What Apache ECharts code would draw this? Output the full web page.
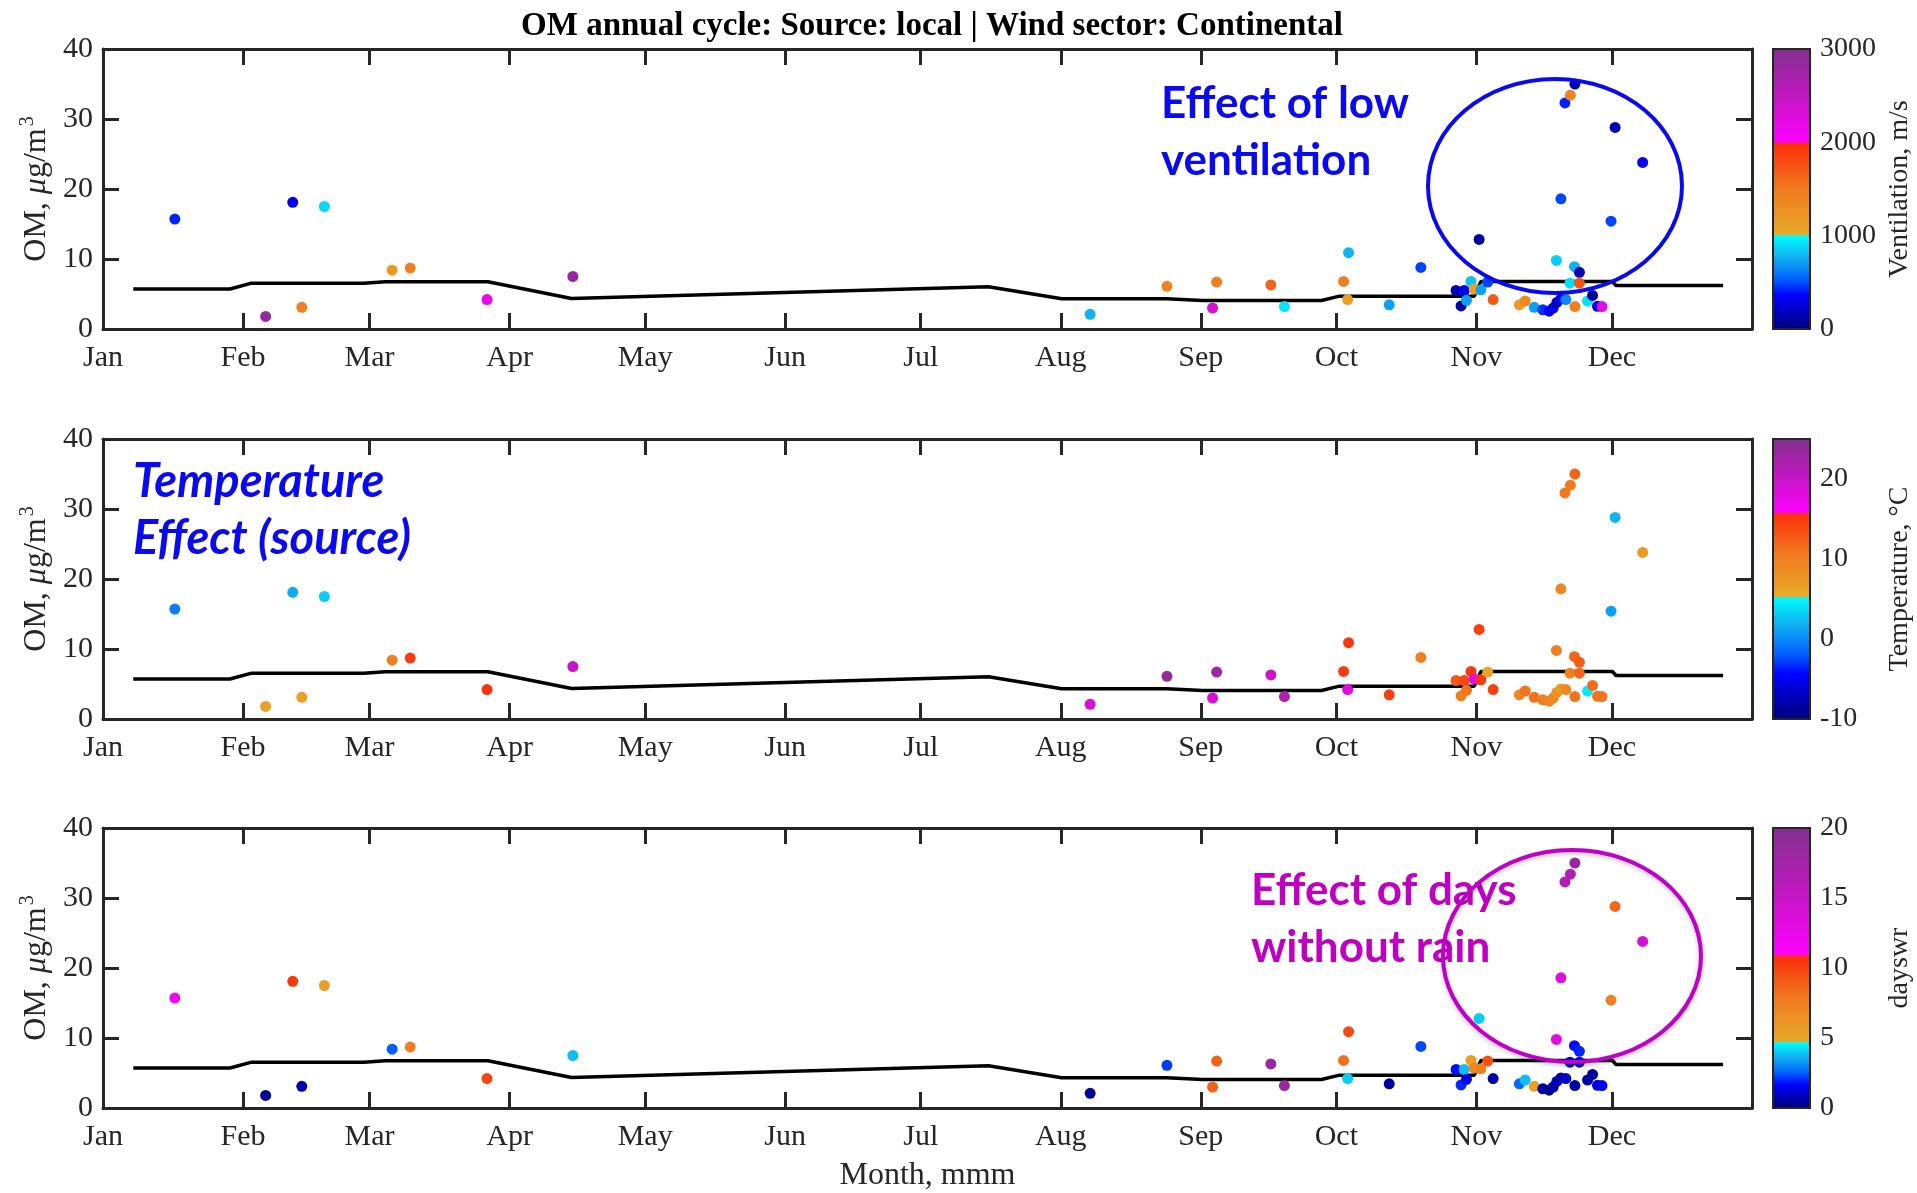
<!DOCTYPE html>
<html lang="en">
<head>
<meta charset="utf-8">
<title>OM annual cycle</title>
<script src="https://cdn.jsdelivr.net/npm/echarts@6/dist/echarts.min.js"></script>
<style>
    html, body { margin: 0; padding: 0; background: #ffffff; }
    #chart { width: 1917px; height: 1193px; }
</style>
</head>
<body>
<div id="chart"></div>
<script>
    // samples: day of year (0 = 1 Jan) and OM concentration
    var sampleDay = [15.9, 36, 42, 44, 49, 64, 68, 85, 104, 218.5, 235.5, 245.6, 246.5, 258.5, 261.5,
        275.7, 274.6, 275.5, 284.7, 291.7, 299.5, 301.3, 300.6, 301.8, 302.8, 303.5, 305, 306.5, 304.6,
        307.7, 313.5, 314.8, 316.8, 318.7, 320.1, 321, 321.8, 322.7, 323.8, 321.7, 322.7, 323.6, 324.8,
        325.8, 325.7, 326.8, 324.7, 326.8, 325.8, 328.6, 329.7, 330.8, 331.8, 333.8, 334.7, 340.8];
    var sampleOM = [15.7, 1.8, 18.1, 3.1, 17.5, 8.4, 8.7, 4.2, 7.5, 2.1, 6.1, 3.0, 6.7, 6.3, 3.2,
        10.9, 6.8, 4.2, 3.45, 8.8, 5.5, 5.5, 3.3, 4.1, 6.8, 5.7, 5.6, 6.7, 12.8,
        4.2, 3.45, 4.0, 3.1, 2.75, 2.55, 3.0, 3.8, 4.3, 4.2, 9.8, 18.6, 32.3, 33.4,
        35.0, 8.9, 8.1, 6.55, 6.55, 3.2, 4.0, 4.8, 3.25, 3.2, 15.4, 28.8, 23.8];
    // colour variables
    var ventilation = [420, 2850, 320, 1450, 880, 1200, 1450, 2150, 2850, 780, 1400, 2350, 1450, 1650, 920,
        780, 1450, 1100, 720, 480, 180, 300, 100, 720, 820, 1100, 720, 480, 100,
        1700, 1150, 1350, 720, 450, 330, 300, 200, 330, 650, 850, 480, 420, 1400,
        120, 780, 150, 900, 1750, 1450, 920, 100, 300, 2250, 480, 150, 320];
    var temperature = [-0.5, 6.5, 1.5, 6.5, 3, 10, 14.8, 15.3, 20, 18.5, 24, 18.5, 23, 19.5, 21.5,
        15.2, 14.8, 18, 14.5, 10, 13, 14, 10, 11, 15, 17.5, 15, 6, 14.5,
        14.5, 9, 11, 11, 10, 9, 9, 8, 7, 9, 10, 9, 10.5, 10.5,
        12, 12, 12.5, 10, 12, 11, 4.5, 11.5, 11, 11, 1, 2, 7];
    var daysWithoutRain = [11.8, 0.3, 10.4, 0.7, 5.5, 2.5, 7.5, 9.8, 3.8, 0.3, 2.2, 8.8, 8.8, 18.5, 18.5,
        9.8, 8.2, 4, 0.4, 2.3, 1.8, 3.8, 2, 1.5, 5.5, 7, 7.5, 9.5, 4,
        0.5, 2.6, 3.8, 5.5, 0.5, 0.3, 0.5, 0.8, 0.5, 1, 13, 13.5, 16.5, 16.5,
        18.5, 1.8, 2, 1, 1, 0.5, 0.5, 0.5, 1.5, 1.5, 7.5, 8.5, 14];

    // baseline curve
    var baseDay = [6.7, 28.1, 32.7, 57.7, 62.5, 85.2, 103.7, 196, 212.2, 235.4, 243.4, 269.7, 273.7,
        303.5, 305, 334.1, 334.9, 358.6];
    var baseOM = [5.72, 5.72, 6.52, 6.52, 6.75, 6.75, 4.35, 6.05, 4.31, 4.31, 4.07, 4.07, 4.69,
        4.69, 6.79, 6.79, 6.21, 6.21];

    var monthStarts = [0, 31, 59, 90, 120, 151, 181, 212, 243, 273, 304, 334];
    var monthNames = ['Jan', 'Feb', 'Mar', 'Apr', 'May', 'Jun', 'Jul', 'Aug', 'Sep', 'Oct', 'Nov', 'Dec'];

    var ventTicks = [0, 1000, 2000, 3000];
    var tempTicks = [-10, 0, 10, 20];
    var rainTicks = [0, 5, 10, 15, 20];

    // colour scales: range and the two breaks of the three-part colormap
    var scales = [
        {min: 0, b1: 1000, b2: 2000, max: 3000, ticks: ventTicks, name: 'Ventilation, m/s'},
        {min: -10, b1: 5.3, b2: 15.8, max: 25, ticks: tempTicks, name: 'Temperature, \u00B0C'},
        {min: 0, b1: 4.7, b2: 10.9, max: 20, ticks: rainTicks, name: 'dayswr'}
    ];

    var cmapLow = [[0, [0, 0, 128]], [0.15, [0, 0, 176]], [0.36, [0, 0, 255]], [0.53, [0, 96, 255]],
        [0.77, [16, 176, 240]], [1, [0, 255, 255]]];
    var cmapMid = [[0, [232, 170, 40]], [0.5, [240, 122, 32]], [1, [250, 45, 10]]];
    var cmapHigh = [[0, [255, 0, 255]], [0.5, [192, 24, 192]], [1, [130, 48, 142]]];

    function stopColor(stops, t) {
        t = Math.max(0, Math.min(1, t));
        for (var i = 1; i < stops.length; i++) {
            if (t <= stops[i][0]) {
                var a = stops[i - 1], b = stops[i];
                var f = (t - a[0]) / (b[0] - a[0]);
                var c = [0, 1, 2].map(function (k) { return Math.round(a[1][k] + (b[1][k] - a[1][k]) * f); });
                return 'rgb(' + c.join(',') + ')';
            }
        }
        return 'rgb(' + stops[stops.length - 1][1].join(',') + ')';
    }

    function colorAt(v, s) {
        if (v < s.b1) return stopColor(cmapLow, (v - s.min) / (s.b1 - s.min));
        if (v < s.b2) return stopColor(cmapMid, (v - s.b1) / (s.b2 - s.b1));
        return stopColor(cmapHigh, (v - s.b2) / (s.max - s.b2));
    }

    function rampColors(s) {
        var out = [];
        for (var i = 0; i <= 300; i++) {
            out.push(colorAt(s.min + (s.max - s.min) * i / 300, s));
        }
        return out;
    }

    var points = sampleDay.map(function (d, i) {
        return [d, sampleOM[i], ventilation[i], temperature[i], daysWithoutRain[i]];
    });
    var baseline = baseDay.map(function (d, i) { return [d, baseOM[i]]; });

    var serif = "'Liberation Serif', 'Times New Roman', serif";
    var ink = '#262626';
    var plotLeft = 103, plotWidth = 1649, plotHeight = 280;
    var plotTops = [49, 439, 828];
    var barLeft = 1773, barWidth = 37;

    var grid = [], xAxis = [], yAxis = [], series = [], visualMap = [];

    plotTops.forEach(function (top, p) {
        grid.push({left: plotLeft, top: top, width: plotWidth, height: plotHeight});
        var tick = {show: true, inside: true, length: 16, customValues: monthStarts,
            lineStyle: {color: ink, width: 3}};
        var frame = {show: true, onZero: false, lineStyle: {color: ink, width: 3}};
        xAxis.push({
            gridIndex: p, type: 'value', min: 0, max: 365, position: 'bottom',
            axisLine: frame,
            axisTick: tick,
            axisLabel: {
                customValues: monthStarts, color: ink, fontFamily: serif, fontSize: 30, margin: 14,
                formatter: function (v) { return monthNames[monthStarts.indexOf(v)] || ''; }
            },
            splitLine: {show: false},
            name: p === 2 ? 'Month, mmm' : '', nameLocation: 'middle', nameGap: 52,
            nameTextStyle: {color: ink, fontFamily: serif, fontSize: 32}
        });
        xAxis.push({
            gridIndex: p, type: 'value', min: 0, max: 365, position: 'top',
            axisLine: frame,
            axisTick: tick, axisLabel: {show: false}, splitLine: {show: false}
        });
        var ytick = {show: true, inside: true, length: 16, lineStyle: {color: ink, width: 3}};
        yAxis.push({
            gridIndex: p, type: 'value', min: 0, max: 40, interval: 10, position: 'left',
            axisLine: frame,
            axisTick: ytick,
            axisLabel: {color: ink, fontFamily: serif, fontSize: 30, margin: 10},
            splitLine: {show: false},
            name: '{a|OM, }{i|\u03BC}{a|g/m}{s|3}', nameLocation: 'middle', nameRotate: 90, nameGap: 46,
            nameTextStyle: {
                color: ink, fontFamily: serif, fontSize: 32,
                rich: {
                    a: {fontFamily: serif, fontSize: 32, color: ink},
                    i: {fontFamily: serif, fontSize: 32, fontStyle: 'italic', color: ink},
                    s: {fontFamily: serif, fontSize: 20, color: ink, padding: [0, 0, 16, 2]}
                }
            }
        });
        yAxis.push({
            gridIndex: p, type: 'value', min: 0, max: 40, interval: 10, position: 'right',
            axisLine: frame,
            axisTick: ytick, axisLabel: {show: false}, splitLine: {show: false}
        });
        series.push({
            type: 'line', xAxisIndex: 2 * p, yAxisIndex: 2 * p, data: baseline,
            showSymbol: false, symbol: 'none', silent: true, z: 2,
            lineStyle: {color: '#000000', width: 3.5}
        });
    });

    // scatter series, one per panel, coloured by its own variable
    plotTops.forEach(function (top, p) {
        series.push({
            type: 'scatter', xAxisIndex: 2 * p, yAxisIndex: 2 * p, data: points,
            symbolSize: 11, z: 3, encode: {x: 0, y: 1},
            itemStyle: {opacity: 1}
        });
    });

    // colour bars: visualMap bar plus an axis grid for labels and the frame
    plotTops.forEach(function (top, p) {
        var s = scales[p];
        visualMap.push({
            type: 'continuous', seriesIndex: 3 + p, dimension: 2 + p,
            min: s.min, max: s.max, calculable: false, orient: 'vertical',
            left: barLeft, top: top, itemWidth: barWidth, itemHeight: plotHeight, padding: 0,
            inRange: {color: rampColors(s)}, text: null, hoverLink: false
        });
        grid.push({left: barLeft, top: top, width: barWidth, height: plotHeight,
            show: true, borderColor: ink, borderWidth: 2, backgroundColor: 'transparent', z: 10});
        xAxis.push({gridIndex: 3 + p, type: 'value', show: false});
        yAxis.push({
            gridIndex: 3 + p, type: 'value', min: s.min, max: s.max, position: 'right',
            axisLine: {show: false}, axisTick: {show: false}, splitLine: {show: false},
            axisLabel: {customValues: s.ticks, color: ink, fontFamily: serif, fontSize: 28, margin: 10,
                formatter: function (v) { return String(v); }},
            name: s.name, nameLocation: 'middle', nameRotate: 90, nameGap: 76,
            nameTextStyle: {color: ink, fontFamily: serif, fontSize: 28}
        });
    });

    var noteFont = "Lato, 'Open Sans', sans-serif";

    var option = {
        backgroundColor: '#ffffff',
        animation: false,
        title: {
            text: 'OM annual cycle: Source: local | Wind sector: Continental',
            left: 927, top: 5, textAlign: 'center',
            textStyle: {fontFamily: serif, fontWeight: 'bold', fontSize: 33, color: '#000000'}
        },
        grid: grid,
        xAxis: xAxis,
        yAxis: yAxis,
        visualMap: visualMap,
        series: series,
        graphic: [
            {type: 'text', left: 1161, top: 75, z: 20, silent: true,
                style: {text: 'Effect of low\nventilation', fill: '#0a0af0', fontFamily: noteFont,
                    fontWeight: 'bold', fontSize: 44, lineHeight: 57}},
            {type: 'ellipse', z: 20, silent: true,
                shape: {cx: 1555, cy: 186, rx: 127, ry: 107},
                style: {fill: 'none', stroke: '#0a0af0', lineWidth: 4}},
            {type: 'text', left: 133, top: 453, z: 20, silent: true,
                style: {text: 'Temperature\nEffect (source)', fill: '#0a0af0', fontFamily: noteFont,
                    fontWeight: 'bold', fontStyle: 'italic', fontSize: 47, lineHeight: 57}},
            {type: 'text', left: 1251, top: 862, z: 20, silent: true,
                style: {text: 'Effect of days\nwithout rain', fill: '#c000c0', fontFamily: noteFont,
                    fontWeight: 'bold', fontSize: 44, lineHeight: 57}},
            {type: 'ellipse', z: 20, silent: true,
                shape: {cx: 1572, cy: 956, rx: 129, ry: 106},
                style: {fill: 'none', stroke: '#c000c8', lineWidth: 4,
                    shadowBlur: 4, shadowColor: 'rgba(0,0,0,0.25)', shadowOffsetY: 2}}
        ]
    };

    var chart = echarts.init(document.getElementById('chart'));
    chart.setOption(option);
</script>
</body>
</html>
